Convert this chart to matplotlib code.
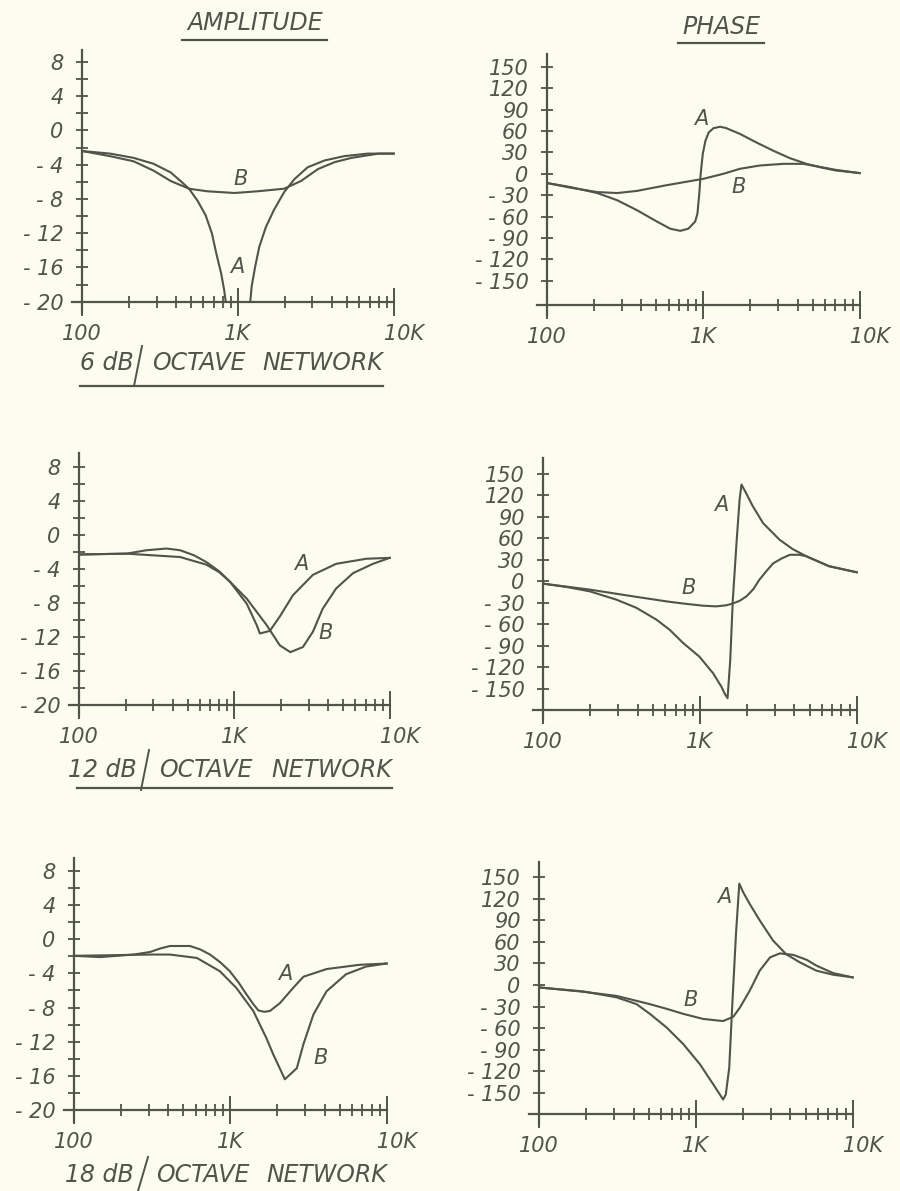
import matplotlib
matplotlib.use('Agg')
import matplotlib.pyplot as plt
from matplotlib.lines import Line2D
from matplotlib.ticker import NullFormatter

W, H = 900, 1191
BG = '#fcfcef'
INK = '#50544b'

plt.rcParams['font.family'] = ['DejaVu Sans']
plt.rcParams['font.style'] = 'oblique'

# ---- axis ticks / labels ----
freq_ticks = [100, 1000, 10000]
freq_labels = ['100', '1K', '   10K']
freq_minor = [200, 300, 400, 500, 600, 700, 800, 900,
              2000, 3000, 4000, 5000, 6000, 7000, 8000, 9000]
amp_ticks = [8, 4, 0, -4, -8, -12, -16, -20]
amp_labels = ['8', '4', '0', '- 4', '- 8', '- 12', '- 16', '- 20']
amp_minor = [6, 2, -2, -6, -10, -14, -18]
phase_ticks = [150, 120, 90, 60, 30, 0, -30, -60, -90, -120, -150]
phase_labels = ['150', '120', '90', '60', '30', '0', '- 30', '- 60', '- 90', '- 120', '- 150']

# ---- 6 dB/octave amplitude ----
amp6_A_f = [100, 151, 214, 288, 370, 428, 485, 550, 620, 680, 727, 780, 815, 835]
amp6_A_db = [-2.4, -2.7, -3.2, -3.9, -4.9, -5.9, -6.8, -8.2, -9.9, -12, -14.4, -16.7, -18.6, -20]
amp6_A2_f = [1200, 1225, 1290, 1370, 1510, 1700, 1980, 2300, 2800, 3600, 4800, 6800, 10000]
amp6_A2_db = [-20, -18.2, -15.9, -13.6, -11.3, -9.3, -7.2, -5.7, -4.3, -3.5, -3.0, -2.7, -2.7]
amp6_B_f = [100, 151, 214, 288, 370, 485, 635, 950, 1340, 1980, 2540, 3270, 4170, 5360, 6800, 8000, 10000]
amp6_B_db = [-2.4, -3.0, -3.6, -4.7, -5.9, -6.8, -7.1, -7.3, -7.1, -6.8, -5.9, -4.5, -3.7, -3.2, -2.9, -2.7, -2.7]

# ---- 6 dB/octave phase ----
ph6_A_f = [100, 141, 209, 280, 375, 504, 613, 710, 800, 885, 915, 940, 960, 990, 1030, 1080,
           1160, 1280, 1400, 1710, 2180, 2790, 3570, 4560, 5560, 7000, 10000]
ph6_A_deg = [-13, -18.6, -27, -37, -51, -67, -77, -80, -77, -67, -56, -28, 0, 28, 46.5, 58,
             64, 66, 64, 56, 44, 32.5, 22, 14, 9.3, 4.7, 1]
ph6_B_f = [100, 141, 209, 280, 375, 580, 1000, 1340, 1710, 2290, 3260, 4340, 5270, 7000, 10000]
ph6_B_deg = [-13, -19.5, -25.6, -27, -24, -16, -7, 0, 7, 11.6, 14, 14, 10.7, 5.6, 1]

# ---- 12 dB/octave amplitude ----
amp12_A_f = [100, 202, 271, 365, 447, 550, 660, 800, 935, 1200, 1390, 1458, 1690, 1960, 2380,
             3200, 4520, 7080, 10000]
amp12_A_db = [-2.3, -2.2, -1.8, -1.6, -1.8, -2.4, -3.2, -4.3, -5.5, -8.1, -10.6, -11.6, -11.3, -9.6, -7.1,
              -4.7, -3.4, -2.8, -2.7]
amp12_B_f = [100, 202, 271, 447, 660, 800, 935, 1200, 1610, 1960, 2290, 2760, 3200, 3700, 4520,
             5800, 7800, 10000]
amp12_B_db = [-2.3, -2.2, -2.35, -2.6, -3.5, -4.4, -5.5, -7.5, -10.6, -13.0, -13.8, -13.2, -11.4, -8.7, -6.3,
              -4.5, -3.4, -2.7]

# ---- 12 dB/octave phase ----
ph12_A_f = [100, 141, 198, 293, 393, 528, 640, 780, 990, 1210, 1370, 1440, 1500, 1560, 1620, 1710,
            1790, 1840, 1970, 2170, 2530, 3220, 3900, 4760, 6670, 10000]
ph12_A_deg = [-3.3, -8, -14, -25.6, -37, -53.6, -67.5, -86, -105, -128, -147, -157, -163, -110, -26, 53,
              114, 135, 123, 105, 81, 58, 45, 35, 21, 12.6]
ph12_B_f = [100, 198, 374, 610, 780, 1040, 1270, 1470, 1620, 1800, 1980, 2190, 2390, 2650, 2930,
            3330, 3750, 4300, 4760, 6670, 10000]
ph12_B_deg = [-3.3, -11.6, -21, -28, -31, -34, -35, -33.5, -31, -27, -21, -11, 2, 14, 25,
              32, 37, 37, 35, 21, 12.6]

# ---- 18 dB/octave amplitude ----
amp18_A_f = [100, 147, 240, 306, 354, 410, 551, 640, 740, 860, 990, 1130, 1270, 1400, 1510,
             1650, 1790, 2070, 2520, 2930, 4120, 6700, 10000]
amp18_A_db = [-1.95, -2.1, -1.8, -1.5, -1.1, -0.8, -0.8, -1.2, -1.8, -2.7, -3.75, -5.1, -6.5, -7.6, -8.35,
              -8.5, -8.4, -7.5, -5.7, -4.4, -3.5, -3.0, -2.85]
amp18_B_f = [100, 306, 410, 610, 855, 1090, 1400, 1700, 1880, 2230, 2660, 2930, 3400, 4120, 5500,
             7400, 10000]
amp18_B_db = [-1.95, -1.8, -1.8, -2.2, -3.75, -5.7, -8.4, -11.6, -13.5, -16.4, -15.1, -12.3, -8.8, -6.1, -4.1,
              -3.2, -2.85]

# ---- 18 dB/octave phase ----
ph18_A_f = [100, 191, 311, 418, 508, 650, 830, 1060, 1290, 1490, 1550, 1630, 1710, 1800, 1890,
            2000, 2200, 2550, 3100, 3760, 4600, 5870, 7500, 10000]
ph18_A_deg = [-3.3, -8.8, -17, -26.5, -40, -59, -82, -110, -138, -159, -152, -115, -22, 71, 141,
              129, 113, 90, 62, 43, 31.6, 20, 14.4, 10.7]
ph18_B_f = [100, 191, 311, 508, 650, 830, 1110, 1490, 1730, 1910, 2200, 2550, 2970, 3430, 4180,
            5100, 5870, 7500, 10000]
ph18_B_deg = [-3.3, -9.3, -15, -26.5, -33, -40, -47, -50, -44, -31, -8, 20, 38.5, 44, 42,
              35, 27, 16.7, 10.7]


def fig_rect(l, t, r, b):
    return [l / W, 1 - b / H, (r - l) / W, (b - t) / H]


def fx(x):
    return x / W


def fy(y):
    return 1 - y / H


def panel(box, ylim, axis_y, yticks, ylabels, yminor, curves, tags):
    ax = fig.add_axes(fig_rect(*box))
    ax.set_facecolor('none')
    ax.set_xscale('log')
    ax.set_xlim(86, 10500)
    ax.set_ylim(ylim)
    ax.spines['top'].set_visible(False)
    ax.spines['right'].set_visible(False)
    ax.spines['left'].set_position(('data', 100))
    ax.spines['bottom'].set_position(('data', axis_y))
    ax.spines['bottom'].set_bounds(86, 10000)
    for s in ['left', 'bottom']:
        ax.spines[s].set_color(INK)
        ax.spines[s].set_linewidth(1.6)

    ax.set_xticks(freq_ticks, freq_labels)
    ax.set_xticks(freq_minor, minor=True)
    ax.xaxis.set_minor_formatter(NullFormatter())
    ax.set_yticks(yticks, ylabels)
    ax.set_yticks(yminor, minor=True)
    ax.tick_params(axis='x', which='major', direction='inout', length=20, width=1.4,
                   color=INK, labelcolor=INK, labelsize=15, pad=6)
    ax.tick_params(axis='x', which='minor', direction='inout', length=9, width=1.3, color=INK)
    ax.tick_params(axis='y', which='both', direction='inout', length=9, width=1.3,
                   color=INK, labelcolor=INK, labelsize=15, pad=9)

    for f, v in curves:
        ax.plot(f, v, color=INK, lw=1.5, solid_joinstyle='round', clip_on=False)
    for txt, f, v in tags:
        ax.text(f, v, txt, color=INK, fontsize=15, ha='center', va='center')
    return ax


fig = plt.figure(figsize=(9, 11.91), dpi=100, facecolor=BG)

# top row
panel((72, 50, 397, 312), (-21.2, 9.4), -20, amp_ticks, amp_labels, amp_minor,
      [(amp6_A_f, amp6_A_db), (amp6_A2_f, amp6_A2_db), (amp6_B_f, amp6_B_db)],
      [('B', 1040, -5.7), ('A', 990, -16)])
panel((537, 54, 863, 315), (-198, 168), -184, phase_ticks, phase_labels, [],
      [(ph6_A_f, ph6_A_deg), (ph6_B_f, ph6_B_deg)],
      [('A', 964, 77), ('B', 1680, -18)])

# middle row
panel((69, 453, 393, 715), (-21.2, 9.65), -20, amp_ticks, amp_labels, amp_minor,
      [(amp12_A_f, amp12_A_db), (amp12_B_f, amp12_B_db)],
      [('A', 2690, -3.45), ('B', 3860, -11.6)])
panel((533, 458, 860, 720), (-193.5, 172), -179.5, phase_ticks, phase_labels, [],
      [(ph12_A_f, ph12_A_deg), (ph12_B_f, ph12_B_deg)],
      [('A', 1370, 107), ('B', 850, -9)])

# bottom row
panel((64, 858, 390, 1122), (-21.4, 9.5), -20, amp_ticks, amp_labels, amp_minor,
      [(amp18_A_f, amp18_A_db), (amp18_B_f, amp18_B_db)],
      [('A', 2240, -4.1), ('B', 3800, -13.9)])
panel((529, 862, 856, 1124), (-193, 171), -179, phase_ticks, phase_labels, [],
      [(ph18_A_f, ph18_A_deg), (ph18_B_f, ph18_B_deg)],
      [('A', 1510, 122), ('B', 920, -21)])

# column headings
fig.text(fx(255), fy(23), 'AMPLITUDE', color=INK, fontsize=17, ha='center', va='center')
fig.add_artist(Line2D([fx(182), fx(327)], [fy(40), fy(40)], color=INK, lw=1.6))
fig.text(fx(721), fy(27), 'PHASE', color=INK, fontsize=17, ha='center', va='center')
fig.add_artist(Line2D([fx(678), fx(764)], [fy(43), fy(43)], color=INK, lw=1.6))

# network captions: lead text, its right edge, slash, text y, underline y, OCTAVE x, right end, left end
captions = [('6 dB', 134, (142, 346, 134, 386), 363, 386, 152, 383, 80),
            ('12 dB', 137, (149, 750, 141, 790), 770, 788, 159, 392, 77),
            ('18 dB', 134, (148, 1157, 138, 1191), 1175, None, 156, 387, 72)]
for lead, lead_r, sl, ty, uy, oct_x, right, left in captions:
    fig.text(fx(lead_r), fy(ty), lead, color=INK, fontsize=17, ha='right', va='center')
    fig.add_artist(Line2D([fx(sl[0]), fx(sl[2])], [fy(sl[1]), fy(sl[3])], color=INK, lw=1.4))
    fig.text(fx(oct_x), fy(ty), 'OCTAVE', color=INK, fontsize=17, ha='left', va='center')
    fig.text(fx(right), fy(ty), 'NETWORK', color=INK, fontsize=17, ha='right', va='center')
    if uy is not None:
        fig.add_artist(Line2D([fx(left), fx(right)], [fy(uy), fy(uy)], color=INK, lw=1.6))

fig.savefig('out.png', dpi=100, facecolor=BG)
